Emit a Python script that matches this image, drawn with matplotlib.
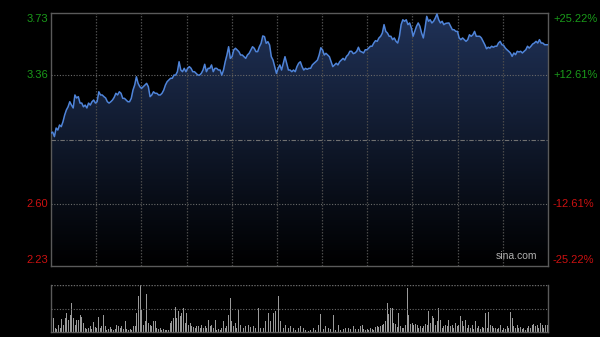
import matplotlib
matplotlib.use("Agg")
import matplotlib.pyplot as plt
import numpy as np
from matplotlib.patches import Polygon

# price track (one value per minute)
prices = [
    3.018, 3.024, 2.997, 3.048, 3.036, 3.066, 3.056, 3.085, 3.125, 3.155,
    3.174, 3.204, 3.184, 3.167, 3.244, 3.226, 3.234, 3.196, 3.196, 3.174,
    3.184, 3.167, 3.196, 3.184, 3.204, 3.214, 3.196, 3.204, 3.263, 3.244,
    3.244, 3.234, 3.226, 3.204, 3.196, 3.204, 3.214, 3.230, 3.254, 3.244,
    3.263, 3.254, 3.224, 3.224, 3.214, 3.204, 3.204, 3.224, 3.273, 3.303,
    3.352, 3.313, 3.293, 3.283, 3.293, 3.303,
    3.313, 3.293, 3.234, 3.244, 3.263, 3.254, 3.254, 3.244, 3.244, 3.254,
    3.273, 3.303, 3.323, 3.333, 3.343, 3.343, 3.362, 3.362, 3.382, 3.441,
    3.392, 3.382, 3.402, 3.382, 3.402, 3.412, 3.402, 3.382, 3.382, 3.372,
    3.362, 3.362, 3.372, 3.392, 3.426, 3.382, 3.402, 3.402, 3.422, 3.382,
    3.402, 3.402, 3.392, 3.392, 3.362, 3.392, 3.441, 3.481, 3.530, 3.461,
    3.471, 3.511, 3.521, 3.511, 3.501, 3.481,
    3.481, 3.471, 3.461, 3.481, 3.491, 3.511, 3.530, 3.521, 3.501, 3.501,
    3.530, 3.550, 3.594, 3.590, 3.550, 3.560, 3.540, 3.471, 3.451, 3.412,
    3.372, 3.402, 3.422, 3.392, 3.432, 3.471, 3.432, 3.392, 3.392, 3.382,
    3.392, 3.382, 3.412, 3.432, 3.441, 3.412, 3.392, 3.402, 3.396, 3.402,
    3.402, 3.422, 3.432, 3.441, 3.451, 3.481, 3.524, 3.511, 3.481, 3.491,
    3.481, 3.471, 3.441, 3.412, 3.422, 3.432, 3.422, 3.441, 3.451, 3.461,
    3.451,
    3.473, 3.483, 3.503, 3.503, 3.489, 3.493, 3.503, 3.527, 3.503, 3.499,
    3.493, 3.512, 3.512, 3.522, 3.533, 3.533, 3.552, 3.566, 3.562, 3.582,
    3.592, 3.611, 3.661, 3.621, 3.611, 3.592, 3.592, 3.572, 3.582, 3.562,
    3.552, 3.592, 3.661, 3.690, 3.681, 3.690, 3.661, 3.671, 3.641, 3.592,
    3.621, 3.651, 3.671, 3.651, 3.611, 3.582, 3.641, 3.710, 3.681, 3.690,
    3.671, 3.681, 3.700, 3.724, 3.690, 3.671, 3.681, 3.661, 3.668, 3.670,
    3.671, 3.651, 3.631, 3.631, 3.621, 3.621, 3.582, 3.572, 3.582, 3.572,
    3.562, 3.572, 3.601, 3.592, 3.601, 3.621, 3.592, 3.592, 3.592, 3.582,
    3.562, 3.542, 3.518, 3.527, 3.522, 3.533, 3.527, 3.533, 3.533, 3.552,
    3.562, 3.542, 3.538, 3.522, 3.512, 3.503, 3.493, 3.473, 3.493, 3.483,
    3.503, 3.499, 3.503, 3.493, 3.503, 3.512, 3.533, 3.522, 3.533, 3.546,
    3.552, 3.562, 3.552, 3.572, 3.552, 3.552, 3.542, 3.542, 3.542,
]

volumes = [
    24, 42, 12, 10, 22, 12, 40, 22, 42, 57, 37, 50, 87, 42, 22, 37, 37, 50, 44, 27,
    12, 10, 12, 17, 10, 30, 14, 12, 44, 12, 17, 52, 17, 7, 10, 14, 10, 7, 10, 22,
    17, 12, 17, 10, 32, 10, 7, 10, 7, 17, 17, 57, 110, 142, 67, 22, 32, 114, 27, 22,
    17, 34, 34, 12, 10, 12, 7, 10, 6, 7, 7, 27, 32, 42, 77, 42, 62, 47, 57, 72,
    27, 57, 22, 27, 17, 14, 12, 17, 17, 12, 22, 12, 17, 12, 37, 17, 22, 12, 37, 7,
    10, 7, 12, 32, 12, 17, 52, 102, 32, 17, 27, 12, 67, 22, 17, 12, 17, 12, 22, 14,
    12, 17, 12, 7, 72, 12, 17, 12, 32, 127, 57, 32, 52, 57, 62, 47, 110, 32, 27, 12,
    22, 17, 12, 17, 27, 12, 7, 20, 12, 17,
    22, 12, 7, 7, 4, 7, 10, 12, 7, 27, 22, 54, 32, 10, 17, 7, 12, 10, 12, 52,
    7, 12, 22, 7, 12, 10, 12, 7, 12, 10, 14, 17, 10, 12, 10, 17, 22, 10, 7, 10,
    7, 12, 10, 7, 14, 17, 14, 17, 22, 24, 32, 87, 54, 72, 72, 27, 24, 14, 57, 17,
    12, 12, 22, 134, 52, 24, 27, 22, 24, 20, 12, 17, 12, 17, 24, 22, 62, 27, 47, 42,
    22, 32, 72, 37, 12, 17, 22, 17, 37, 17, 22, 12, 27, 17, 22, 47, 32, 17, 37, 12,
    22, 12, 22, 10, 32, 12, 17, 10, 14, 12, 57, 12, 60, 22, 17, 12, 12, 10, 12, 20,
    7, 12, 10, 17, 12, 60, 42, 17, 12, 22, 12, 14, 10, 12, 7, 12, 17, 12, 22, 24,
    17, 22, 12, 27, 22, 12, 20, 22,
]

prev_close = 2.98
y_ticks = [3.73, 3.36, 2.60, 2.23]
y_labels = ["3.73", "3.36", "2.60", "2.23"]
pct_labels = ["+25.22%", "+12.61%", "-12.61%", "-25.22%"]
n_div = 11

up_col = "#1a9a1a"
down_col = "#cc1111"
grid_col = "#5a5a5a"
line_col = "#4f84d9"

fig = plt.figure(figsize=(6, 3.37), dpi=100, facecolor="black")
ax = fig.add_axes([51 / 600, 71 / 337, 497 / 600, 253 / 337], facecolor="black")
axv = fig.add_axes([51 / 600, 5 / 337, 497 / 600, 47 / 337], facecolor="black")

# price panel
x = np.arange(len(prices))
y_lo, y_hi = 2.23, 3.73
ax.set_xlim(0, len(prices) - 1)
ax.set_ylim(y_lo, y_hi)

# gradient fill under the line
grad = np.linspace(1, 0, 256).reshape(-1, 1)
top_rgb = np.array([32, 50, 88]) / 255
img = np.zeros((256, 1, 4))
img[..., :3] = grad[..., None] * top_rgb
img[..., 3] = 1
im = ax.imshow(img, extent=[0, len(prices) - 1, y_lo, y_hi], aspect="auto",
               origin="upper", zorder=1, interpolation="bilinear")
verts = [(0, y_lo)] + list(zip(x, prices)) + [(len(prices) - 1, y_lo)]
clip = Polygon(verts, closed=True, facecolor="none", edgecolor="none")
ax.add_patch(clip)
im.set_clip_path(clip)

ax.plot(x, prices, color=line_col, lw=1.1, zorder=4)

# grid
for v in [3.36, 2.60]:
    ax.axhline(v, color="#6a6a6a", lw=0.8, ls=(0, (1, 1.5)), zorder=3)
ax.axhline(prev_close, color="#707070", lw=0.8, ls=(0, (4, 1.5, 1, 1.5)), zorder=3)
for i in range(1, n_div):
    ax.axvline((len(prices) - 1) * i / n_div, color="#4a4a4a", lw=0.9,
               ls=(0, (1.2, 1.2)), zorder=3)

for s in ax.spines.values():
    s.set_color(grid_col)
    s.set_linewidth(1)
ax.set_xticks([])
ax.set_yticks([])

# axis labels
for i, (v, lab, pl) in enumerate(zip(y_ticks, y_labels, pct_labels)):
    col = up_col if v > prev_close else down_col
    yy = v
    if i == 0:
        yy = v - 0.035
    elif i == len(y_ticks) - 1:
        yy = v + 0.035
    ax.text(-0.006, yy, lab, transform=ax.get_yaxis_transform(), ha="right",
            va="center", color=col, fontsize=8, family="Liberation Sans")
    ax.text(1.01, yy, pl, transform=ax.get_yaxis_transform(), ha="left",
            va="center", color=col, fontsize=8, family="Liberation Sans")

ax.text(0.978, 0.02, "sina.com", transform=ax.transAxes, ha="right", va="bottom",
        color="#b0b0b0", fontsize=7.5, family="Liberation Sans", zorder=5)

# volume panel
xv = np.arange(len(volumes))
axv.bar(xv, volumes, width=0.55, color="#9a9a9a", zorder=2)
axv.set_xlim(-0.5, len(volumes) - 0.5)
vmax = max(volumes)
axv.set_ylim(0, vmax)
axv.axhline(vmax / 2, color="#6a6a6a", lw=0.8, ls=(0, (1, 1.5)), zorder=3)
axv.axhline(vmax, color="#6a6a6a", lw=1.0, ls=(0, (1, 1.0)), zorder=3)
axv.spines["top"].set_visible(False)
for k in ["left", "right", "bottom"]:
    axv.spines[k].set_color(grid_col)
    axv.spines[k].set_linewidth(1)
axv.set_xticks([])
axv.set_yticks([])

fig.savefig("out.png", dpi=100, facecolor="black")
